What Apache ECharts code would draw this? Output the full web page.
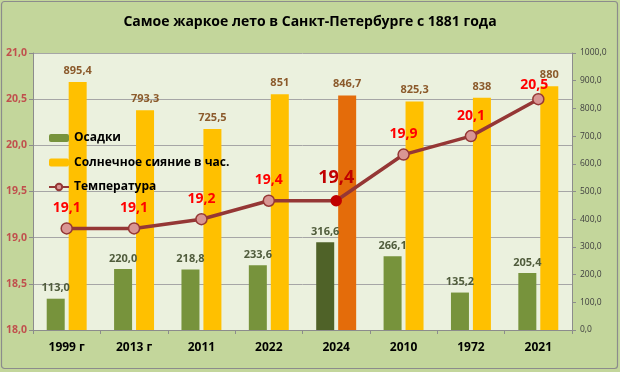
<!DOCTYPE html>
<html><head><meta charset="utf-8">
<script src="https://cdn.jsdelivr.net/npm/echarts@6/dist/echarts.min.js"></script>
<style>html,body{margin:0;padding:0;background:#C3D69B;}#c{width:620px;height:372px;}</style>
</head><body><div id="c"></div>
<script>
const titleText = 'Самое жаркое лето в Санкт-Петербурге с 1881 года';
const categories = ['1999 г', '2013 г', '2011', '2022', '2024', '2010', '1972', '2021'];
const precipitation = [113.0, 220.0, 218.8, 233.6, 316.6, 266.1, 135.2, 205.4];
const sunshine = [895.4, 793.3, 725.5, 851, 846.7, 825.3, 838, 880];
const temperature = [19.1, 19.1, 19.2, 19.4, 19.4, 19.9, 20.1, 20.5];
const seriesNames = ['Осадки', 'Солнечное сияние в час.', 'Температура'];
const highlightIndex = 4;
const lastIndex = temperature.length - 1;

const fmt1 = v => Number(v).toFixed(1).replace('.', ',');
const FONT = '"Open Sans", sans-serif';

const chart = echarts.init(document.getElementById('c'), null, {renderer: 'canvas'});
chart.setOption({
  backgroundColor: '#C3D69B',
  animation: false,
  textStyle: {fontFamily: FONT},
  title: {
    text: titleText, left: 'center', top: 10,
    textStyle: {fontFamily: FONT, fontSize: 14, fontWeight: 'bold', color: '#000'}
  },
  graphic: [{
    type: 'rect', z: 100, silent: true,
    shape: {x: 1.5, y: 1.5, width: 616, height: 367, r: 3},
    style: {fill: 'none', stroke: '#8C8C8C', lineWidth: 1.2}
  }],
  legend: {
    orient: 'vertical', left: 43, top: 126,
    itemWidth: 20, itemHeight: 8, itemGap: 10.5,
    data: seriesNames,
    textStyle: {fontFamily: FONT, fontSize: 12, fontWeight: 'bold', color: '#000', lineHeight: 14}
  },
  grid: {
    left: 33, right: 48, top: 53, bottom: 42,
    show: true, backgroundColor: '#EBF1DE', borderWidth: 0
  },
  xAxis: {
    type: 'category', data: categories,
    axisLine: {show: true, lineStyle: {color: '#8C8C8C', width: 1}},
    axisTick: {show: true, length: 4, lineStyle: {color: '#8C8C8C'}},
    axisLabel: {fontFamily: FONT, fontSize: 12, fontWeight: 'bold', color: '#000', margin: 12}
  },
  yAxis: [{
    type: 'value', min: 18, max: 21, interval: 0.5,
    axisLine: {show: true, lineStyle: {color: '#8C8C8C'}},
    axisTick: {show: true, length: 4, lineStyle: {color: '#8C8C8C'}},
    splitLine: {show: true, lineStyle: {color: '#A6A6A6', width: 1}},
    axisLabel: {formatter: fmt1, fontFamily: FONT, fontSize: 10.5, fontWeight: 'bold', color: '#C0504D', margin: 6}
  }, {
    type: 'value', min: 0, max: 1000, interval: 100,
    axisLine: {show: true, lineStyle: {color: '#8C8C8C'}},
    axisTick: {show: true, length: 4, lineStyle: {color: '#8C8C8C'}},
    splitLine: {show: false},
    axisLabel: {formatter: fmt1, fontFamily: FONT, fontSize: 8.5, color: '#404040', margin: 8}
  }],
  series: [{
    name: seriesNames[0], type: 'bar', yAxisIndex: 1,
    barWidth: 18, barGap: '22%',
    itemStyle: {color: '#77933C'},
    data: precipitation.map((v, i) => i === highlightIndex ? {value: v, itemStyle: {color: '#4F6228'}} : v),
    label: {show: true, position: 'top', distance: 5, formatter: p => fmt1(p.value),
      fontFamily: FONT, fontSize: 11, fontWeight: 'bold', color: '#505C3C'}
  }, {
    name: seriesNames[1], type: 'bar', yAxisIndex: 1,
    barWidth: 18, barGap: '22%',
    itemStyle: {color: '#FFC000'},
    data: sunshine.map((v, i) => i === highlightIndex ? {value: v, itemStyle: {color: '#E46C0A'}} : v),
    label: {show: true, position: 'top', distance: 6, formatter: p => String(p.value).replace('.', ','),
      fontFamily: FONT, fontSize: 11, fontWeight: 'bold', color: '#8B5A2B'}
  }, {
    name: seriesNames[2], type: 'line', yAxisIndex: 0,
    symbol: 'circle', symbolSize: 11, z: 5,
    lineStyle: {color: '#953735', width: 3.5},
    itemStyle: {color: '#D99694', borderColor: '#953735', borderWidth: 1.5},
    data: temperature.map((v, i) => {
      if (i === highlightIndex) return {
        value: v, symbolSize: 10,
        itemStyle: {color: '#C00000', borderColor: '#C00000'},
        label: {fontSize: 18, color: '#C00000', distance: 8}
      };
      if (i === lastIndex) return {value: v, label: {offset: [-4, 6]}};
      return v;
    }),
    label: {show: true, position: 'top', distance: 7, formatter: p => fmt1(p.value),
      fontFamily: FONT, fontSize: 14, fontWeight: 'bold', color: '#FF0000'}
  }]
});
</script></body></html>
